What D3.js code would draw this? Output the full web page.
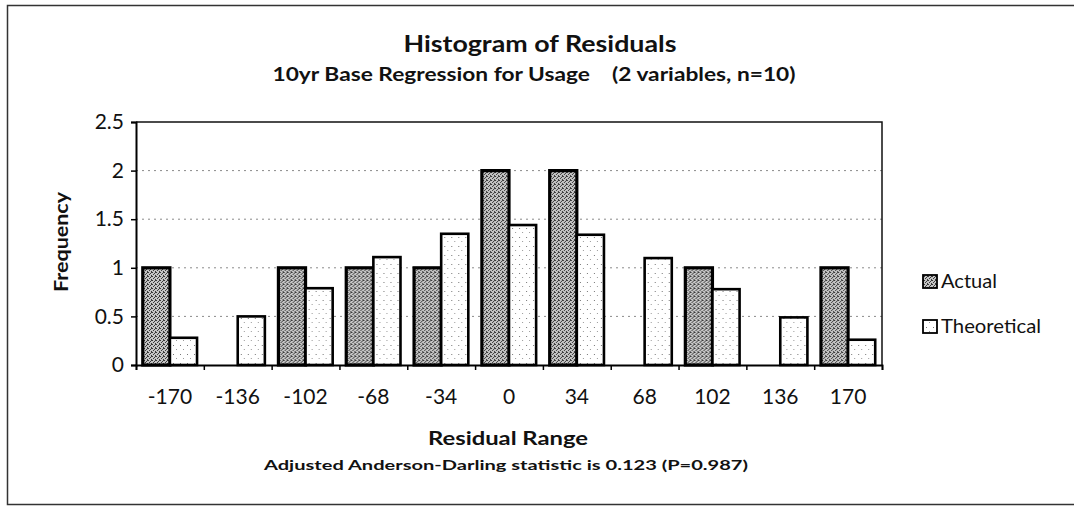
<!DOCTYPE html>
<html>
<head>
<meta charset="utf-8">
<script src="https://cdn.jsdelivr.net/npm/d3@7"></script>
<style>
  body { margin: 0; background: #fff; }
  svg text { font-family: Lato, "Open Sans", sans-serif; fill: #111; }
</style>
</head>
<body>
<div></div>
<script>
'use strict';

// Data
var categories = ["-170", "-136", "-102", "-68", "-34", "0", "34", "68", "102", "136", "170"];
var actual = [1, 0, 1, 1, 1, 2, 2, 0, 1, 0, 1];
var theoretical = [0.28, 0.5, 0.79, 1.11, 1.35, 1.44, 1.34, 1.1, 0.78, 0.49, 0.26];
var seriesNames = ["Actual", "Theoretical"];
var yTicks = [0, 0.5, 1, 1.5, 2, 2.5];

var svgWidth = 1074;
var svgHeight = 508;
var plot = {left: 136, right: 882, top: 122, bottom: 365};

var svg = d3.select("body").select("div")
  .append("svg")
    .attr("width", svgWidth)
    .attr("height", svgHeight);

// fill textures, roughly like the scanned stipple
var defs = svg.append("defs");
var pa = defs.append("pattern")
    .attr("id", "stipple-dark")
    .attr("width", 4).attr("height", 4)
    .attr("patternUnits", "userSpaceOnUse");
pa.append("rect").attr("width", 4).attr("height", 4).attr("fill", "#c4c4c4");
[[0, 0], [2, 1], [1, 2], [3, 3], [3, 0]].forEach(function(p) {
  pa.append("rect").attr("x", p[0]).attr("y", p[1]).attr("width", 1).attr("height", 1).attr("fill", "#3a3a3a");
});
var pt = defs.append("pattern")
    .attr("id", "stipple-light")
    .attr("width", 7).attr("height", 9)
    .attr("patternUnits", "userSpaceOnUse");
pt.append("rect").attr("width", 7).attr("height", 9).attr("fill", "#fff");
pt.append("rect").attr("x", 2).attr("y", 3).attr("width", 1).attr("height", 1).attr("fill", "#777");
pt.append("rect").attr("x", 5).attr("y", 7).attr("width", 1).attr("height", 1).attr("fill", "#999");

var fills = {Actual: "url(#stipple-dark)", Theoretical: "url(#stipple-light)"};

// outer frame
svg.append("rect")
    .attr("x", 7.5).attr("y", 5.5)
    .attr("width", 1080).attr("height", 499)
    .attr("fill", "none")
    .attr("stroke", "#333")
    .attr("stroke-width", 1.5);

// scales
var xScale = d3.scaleBand()
    .domain(categories)
    .range([plot.left, plot.right])
    .paddingInner(0).paddingOuter(0);

var xSub = d3.scaleBand()
    .domain(seriesNames)
    .range([0, xScale.bandwidth()])
    .paddingInner(0).paddingOuter(0.25);

var xEdges = d3.scaleLinear()
    .domain([0, categories.length])
    .range([plot.left, plot.right]);

var yScale = d3.scaleLinear()
    .domain([0, 2.5])
    .range([plot.bottom, plot.top]);

// gridlines
svg.append("g")
  .selectAll("line")
  .data(yTicks.filter(function(t) { return t > 0 && t < 2.5; }))
  .enter().append("line")
    .attr("x1", plot.left).attr("x2", plot.right)
    .attr("y1", function(d) { return yScale(d); })
    .attr("y2", function(d) { return yScale(d); })
    .attr("stroke", "#8a8a8a")
    .attr("stroke-width", 1)
    .attr("stroke-dasharray", "2,4");

// plot area top / right border
svg.append("path")
    .attr("d", "M" + plot.left + "," + plot.top + "H" + plot.right + "V" + plot.bottom)
    .attr("fill", "none")
    .attr("stroke", "#111")
    .attr("stroke-width", 1.5);

// bars
var rows = categories.map(function(c, i) {
  return {cat: c, values: [
    {series: "Actual", value: actual[i]},
    {series: "Theoretical", value: theoretical[i]}
  ]};
});

var groups = svg.append("g")
  .selectAll("g")
  .data(rows)
  .enter().append("g")
    .attr("transform", function(d) { return "translate(" + xScale(d.cat) + ",0)"; });

groups.selectAll("rect")
  .data(function(d) { return d.values.filter(function(v) { return v.value > 0; }); })
  .enter().append("rect")
    .attr("x", function(d) { return xSub(d.series); })
    .attr("y", function(d) { return yScale(d.value); })
    .attr("width", xSub.bandwidth())
    .attr("height", function(d) { return plot.bottom - yScale(d.value); })
    .attr("fill", function(d) { return fills[d.series]; })
    .attr("stroke", "#000")
    .attr("stroke-width", function(d) { return d.series === "Actual" ? 3.2 : 2.6; });

// y axis
var yAxis = svg.append("g")
    .attr("transform", "translate(" + plot.left + ",0)")
  .call(d3.axisLeft(yScale).tickValues(yTicks).tickSize(5).tickPadding(7)
        .tickFormat(function(d) { return String(d); }));
yAxis.select(".domain").attr("stroke", "#000").attr("stroke-width", 2);
yAxis.selectAll(".tick line").attr("stroke", "#000").attr("stroke-width", 1.5);
yAxis.selectAll(".tick text")
    .attr("font-size", 21)
    .attr("font-family", "Lato, sans-serif")
    .attr("fill", "#111");

// x axis: boundary ticks
var xTickAxis = svg.append("g")
    .attr("transform", "translate(0," + plot.bottom + ")")
  .call(d3.axisBottom(xEdges).tickValues(d3.range(categories.length + 1)).tickSize(5).tickFormat(""));
xTickAxis.select(".domain").attr("stroke", "#000").attr("stroke-width", 1.8);
xTickAxis.selectAll(".tick line").attr("stroke", "#000").attr("stroke-width", 1.5);

// x axis: category labels
var xLabelAxis = svg.append("g")
    .attr("transform", "translate(0," + plot.bottom + ")")
  .call(d3.axisBottom(xScale).tickSize(0).tickPadding(24));
xLabelAxis.select(".domain").remove();
xLabelAxis.selectAll(".tick text")
    .attr("font-size", 21)
    .attr("font-family", "Lato, sans-serif")
    .attr("fill", "#111");

// titles (the scan is a little stretched sideways, so widths are pinned)
function label(x, y, size, width, txt) {
  return svg.append("text")
      .attr("x", x).attr("y", y)
      .attr("text-anchor", "middle")
      .attr("font-size", size)
      .attr("font-weight", "bold")
      .attr("textLength", width)
      .attr("lengthAdjust", "spacingAndGlyphs")
      .attr("xml:space", "preserve")
      .text(txt);
}

label(540, 52, 22, 273, "Histogram of Residuals");
label(534, 81, 18, 523, "10yr Base Regression for Usage    (2 variables, n=10)");
label(508, 445, 19, 160, "Residual Range");
label(506, 470, 13.5, 484, "Adjusted Anderson-Darling statistic is 0.123 (P=0.987)");

svg.append("text")
    .attr("transform", "translate(68,242) rotate(-90)")
    .attr("text-anchor", "middle")
    .attr("font-size", 19)
    .attr("font-weight", "bold")
    .attr("textLength", 100)
    .attr("lengthAdjust", "spacingAndGlyphs")
    .text("Frequency");

// legend
var legend = svg.append("g");
legend.selectAll("rect")
  .data(seriesNames)
  .enter().append("rect")
    .attr("x", 923)
    .attr("y", function(d, i) { return 275 + i * 45; })
    .attr("width", 14)
    .attr("height", 13)
    .attr("fill", function(d) { return fills[d]; })
    .attr("stroke", "#000")
    .attr("stroke-width", 1.8);

legend.selectAll("text")
  .data(seriesNames)
  .enter().append("text")
    .attr("x", 941)
    .attr("y", function(d, i) { return 288 + i * 45; })
    .attr("font-size", 20)
    .attr("textLength", function(d, i) { return i === 0 ? 56 : 100; })
    .attr("lengthAdjust", "spacingAndGlyphs")
    .text(function(d) { return d; });
</script>
</body>
</html>
